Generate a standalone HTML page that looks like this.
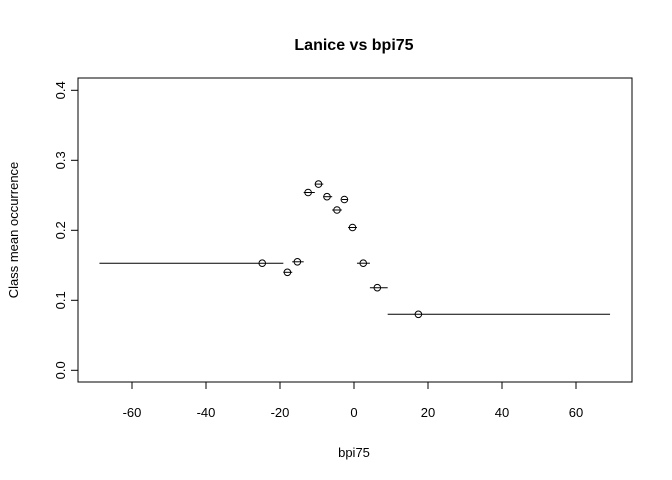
<!DOCTYPE html>
<html><head><meta charset="utf-8"><style>
html,body{margin:0;padding:0;background:#fff;}
svg{display:block;font-family:"Liberation Sans",Arial,sans-serif;}
</style></head><body>
<svg id="chart" width="672" height="480" viewBox="0 0 672 480" xmlns="http://www.w3.org/2000/svg">
<text x="354" y="50" text-anchor="middle" font-size="16" font-weight="bold">Lanice vs bpi75</text>
<rect x="78" y="78" width="554" height="304" fill="none" stroke="#000" stroke-width="1"/>
<text x="354" y="457" text-anchor="middle" font-size="13">bpi75</text>
<text transform="translate(18,230) rotate(-90)" text-anchor="middle" font-size="13">Class mean occurrence</text>
<g id="marks"></g>
</svg>
<script>
const xTicks = [-60,-40,-20,0,20,40,60];
const yTicks = [0.0,0.1,0.2,0.3,0.4];
const yTickLabels = ["0.0","0.1","0.2","0.3","0.4"];
const classMid = [-24.8,-18.0,-15.3,-12.4,-9.6,-7.3,-4.6,-2.6,-0.4,2.5,6.3,17.4];
const classLo = [-68.8,-19.1,-16.7,-13.6,-10.6,-8.3,-5.9,-3.3,-1.6,0.8,4.3,9.1];
const classHi = [-19.1,-16.7,-13.6,-10.6,-8.3,-5.9,-3.3,-1.6,0.8,4.3,9.1,69.2];
const meanOcc = [0.153,0.140,0.155,0.254,0.266,0.248,0.229,0.244,0.204,0.153,0.118,0.080];

function sx(v){return 354 + v*3.7;}
function sy(v){return 370.3 - v*700;}
const NS="http://www.w3.org/2000/svg";
const svg=document.getElementById('chart');
const g=document.getElementById('marks');
function mk(t,a,p){const e=document.createElementNS(NS,t);for(const k in a)e.setAttribute(k,a[k]);(p||g).appendChild(e);return e;}

mk('line',{x1:sx(-60),x2:sx(60),y1:382,y2:382,stroke:'#000'});
xTicks.forEach(v=>{
  const l=mk('line',{x1:sx(v),x2:sx(v),y1:382,y2:389,stroke:'#000'});
  
  
  const t=mk('text',{x:sx(v),y:417,'text-anchor':'middle','font-size':13});
  t.textContent=String(v);
  
  
});
mk('line',{x1:78,x2:78,y1:sy(0),y2:sy(0.4),stroke:'#000'});
yTicks.forEach((v,i)=>{
  const l=mk('line',{x1:71,x2:78,y1:sy(v),y2:sy(v),stroke:'#000'});
  
  
  const t=mk('text',{transform:`translate(65,${sy(v)}) rotate(-90)`,'text-anchor':'middle','font-size':13});
  t.textContent=yTickLabels[i];
  
  
});
classMid.forEach((m,i)=>{
  const y=sy(meanOcc[i]);
  const l=mk('line',{x1:sx(classLo[i]),x2:sx(classHi[i]),y1:y,y2:y,stroke:'#000','stroke-width':1});
  
  
  const c=mk('circle',{cx:sx(m),cy:y,r:3.3,fill:'none',stroke:'#000','stroke-width':1});
  
  
});
</script>
</body></html>
